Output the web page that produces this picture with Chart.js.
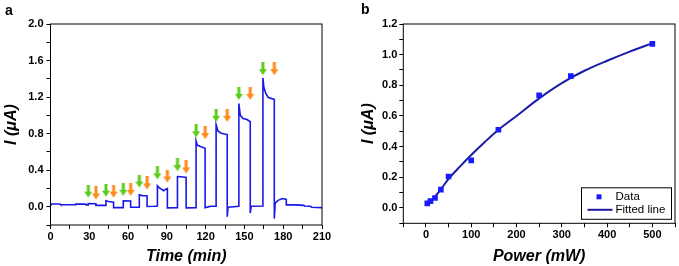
<!DOCTYPE html>
<html>
<head>
<meta charset="utf-8">
<script src="https://cdn.jsdelivr.net/npm/chart.js@4.4.0/dist/chart.umd.min.js"></script>
<style>
  html, body { margin: 0; padding: 0; background: #fff; }
  #wrap { position: relative; width: 679px; height: 266px; font-family: 'Liberation Sans', Arial, sans-serif; }
  .panel { position: absolute; top: 0; height: 266px; }
  #panelA { left: 0; width: 340px; }
  #panelB { left: 340px; width: 339px; }
  .tag { position: absolute; font-weight: bold; font-size: 14px; line-height: 14px; }
</style>
</head>
<body>
<div id="wrap">
  <div class="panel" id="panelA"><canvas id="chartA"></canvas></div>
  <div class="panel" id="panelB"><canvas id="chartB"></canvas></div>
  <div class="tag" style="left:5px; top:3px">a</div>
  <div class="tag" style="left:361px; top:2px">b</div>
</div>
<script>
// panel a: current vs time (min)
const timeMin = [0, 1, 7.5, 8, 19, 19.5, 27, 27.5, 29.2,
  29.2, 35.1, 35.1, 42.9,
  42.9, 45, 48.8, 48.8, 56.3,
  56.3, 62.0, 62.0, 68.7,
  68.7, 71, 74.7, 74.7, 80, 82.7,
  82.7, 84, 86, 87.5, 89, 90.4, 90.4, 98.2,
  98.2, 101, 104.9, 104.9, 112.6,
  112.6, 113.5, 116, 119.6, 119.6, 124, 128.1,
  128.1, 129.5, 132, 136.7, 136.7, 137.3, 145.7,
  145.7, 146.8, 149, 152, 154.5, 154.5, 155.2, 164.3,
  164.3, 165, 166.5, 168.5, 173.1, 173.1, 173.8, 176, 179.5, 182.4,
  182.4, 190, 196, 196.5, 201, 202, 210];
const currentA = [0.015, 0.03, 0.03, 0.022, 0.022, 0.028, 0.028, 0.02, 0.02,
  0.035, 0.033, 0.015, 0.015,
  0.065, 0.058, 0.05, -0.01, -0.01,
  0.065, 0.062, -0.005, -0.005,
  0.13, 0.122, 0.12, 0.003, 0.005, 0.008,
  0.23, 0.21, 0.19, 0.175, 0.19, 0.2, -0.012, -0.01,
  0.33, 0.328, 0.32, -0.012, -0.01,
  0.72, 0.675, 0.66, 0.64, -0.01, 0.005, 0.005,
  0.9, 0.83, 0.805, 0.79, -0.11, -0.005, 0.005,
  1.13, 1.0, 0.965, 0.955, 0.93, -0.07, 0.005, 0.008,
  1.41, 1.31, 1.24, 1.195, 1.175, -0.13, 0.04, 0.07, 0.09, 0.08,
  0.02, 0.02, 0.015, 0.008, 0.005, -0.005, -0.01];

// light on (green) / off (orange) arrows: time and tip height
const onTimes = [29.2, 42.9, 56.3, 68.7, 82.7, 98.2, 112.6, 128.1, 145.7, 164.3];
const onTips = [0.10, 0.11, 0.12, 0.21, 0.30, 0.39, 0.76, 0.93, 1.17, 1.44];
const offTimes = [35.1, 48.8, 62.0, 74.7, 90.4, 104.9, 119.6, 136.7, 154.5, 173.1];
const offTips = [0.08, 0.10, 0.12, 0.19, 0.265, 0.365, 0.74, 0.93, 1.17, 1.44];

// panel b: current vs power (mW)
const powerMW = [3, 10, 20, 33, 50, 100, 160, 250, 320, 500];
const currentB = [0.03, 0.045, 0.065, 0.12, 0.205, 0.31, 0.51, 0.735, 0.86, 1.07];
const fitPower = [3, 10, 20, 35, 50, 75, 100, 130, 160, 200, 250, 300, 350, 400, 450, 500];
const fitCurrent = [0.025, 0.045, 0.075, 0.13, 0.19, 0.27, 0.345, 0.43, 0.51, 0.60, 0.715, 0.815, 0.895, 0.96, 1.02, 1.075];

const tickFont = { family: 'Liberation Sans', size: 11, weight: 'bold' };
const titleFont = { family: 'Liberation Sans', size: 16, weight: 'bold', style: 'italic' };

function toPoints(xs, ys) {
    return xs.map((x, i) => ({ x: x, y: ys[i] }));
}

// down arrow, tip sits at the image centre
function arrowImage(color) {
    const c = document.createElement('canvas');
    c.width = 8;
    c.height = 26;
    const g = c.getContext('2d');
    g.fillStyle = color;
    g.fillRect(2.5, 0, 3, 8);
    g.beginPath();
    g.moveTo(0, 7);
    g.lineTo(8, 7);
    g.lineTo(4, 13);
    g.closePath();
    g.fill();
    return c;
}

const frame = {
    id: 'frame',
    afterDraw(chart) {
        const { ctx, chartArea: a } = chart;
        ctx.save();
        ctx.strokeStyle = '#000';
        ctx.lineWidth = 1;
        ctx.strokeRect(a.left, a.top, a.right - a.left, a.bottom - a.top);
        ctx.restore();
    }
};

function axisGrid() {
    return { drawOnChartArea: false, drawTicks: true, tickLength: 4, color: '#000', lineWidth: 1 };
}

new Chart(document.getElementById('chartA'), {
    type: 'line',
    data: {
        datasets: [
            { type: 'scatter', data: toPoints(onTimes, onTips), pointStyle: arrowImage('#5ccc1c'), pointRadius: 5 },
            { type: 'scatter', data: toPoints(offTimes, offTips), pointStyle: arrowImage('#ff8a1a'), pointRadius: 5 },
            { data: toPoints(timeMin, currentA), borderColor: '#1818e8', borderWidth: 1.6, pointRadius: 0, tension: 0 }
        ]
    },
    options: {
        responsive: true,
        maintainAspectRatio: false,
        animation: false,
        layout: { padding: { top: 24, right: 18 } },
        plugins: { legend: { display: false }, tooltip: { enabled: false } },
        scales: {
            x: {
                type: 'linear', min: 0, max: 210,
                afterFit: s => { s.height = 41; },
                grid: axisGrid(), border: { display: false },
                ticks: { stepSize: 15, maxTicksLimit: 40, autoSkip: false, font: tickFont, color: '#000', padding: 1, maxRotation: 0,
                    callback: v => (v % 30 === 0 ? v : '') },
                title: { display: true, text: 'Time (min)', font: titleFont, color: '#000', padding: { top: 0, bottom: 0 } }
            },
            y: {
                min: -0.2, max: 2.0,
                afterFit: s => { s.width = 50.5; },
                grid: axisGrid(), border: { display: false },
                ticks: { stepSize: 0.2, maxTicksLimit: 40, autoSkip: false, font: tickFont, color: '#000', padding: 3,
                    callback: v => { const k = Math.round(v * 10); return (k >= 0 && k % 4 === 0) ? (k / 10).toFixed(1) : ''; } },
                title: { display: true, text: 'I (μA)', font: titleFont, color: '#000', padding: { top: 2, bottom: 0 } }
            }
        }
    },
    plugins: [frame]
});

const legendBox = {
    id: 'legendBox',
    afterDraw(chart) {
        const { ctx, chartArea } = chart;
        const w = 90, h = 31.5;
        const l = chartArea.right - 3.5 - w, t = chartArea.bottom - 4 - h;
        const dataSet = chart.data.datasets[0], fitSet = chart.data.datasets[1];
        ctx.save();
        ctx.fillStyle = '#fff';
        ctx.fillRect(l, t, w, h);
        ctx.strokeStyle = '#000';
        ctx.lineWidth = 1;
        ctx.strokeRect(l, t, w, h);
        ctx.fillStyle = dataSet.backgroundColor;
        ctx.fillRect(l + 15, t + 6.5, 5, 5);
        ctx.strokeStyle = fitSet.borderColor;
        ctx.lineWidth = 2;
        ctx.beginPath();
        ctx.moveTo(l + 6, t + h - 9.5);
        ctx.lineTo(l + 31, t + h - 9.5);
        ctx.stroke();
        ctx.fillStyle = '#000';
        ctx.font = '11.5px "Liberation Sans"';
        ctx.textBaseline = 'middle';
        ctx.fillText(dataSet.label, l + 34, t + 9);
        ctx.fillText(fitSet.label, l + 34, t + h - 9.5);
        ctx.restore();
    }
};

new Chart(document.getElementById('chartB'), {
    type: 'scatter',
    data: {
        datasets: [
            { label: 'Data', data: toPoints(powerMW, currentB), pointStyle: 'rect', pointRadius: 4,
              backgroundColor: '#1a1aff', borderColor: '#1a1aff', borderWidth: 0 },
            { type: 'line', label: 'Fitted line', data: toPoints(fitPower, fitCurrent), borderColor: '#1c1ca8',
              borderWidth: 2, pointRadius: 0, tension: 0.4, cubicInterpolationMode: 'monotone' }
        ]
    },
    options: {
        responsive: true,
        maintainAspectRatio: false,
        animation: false,
        layout: { padding: { top: 24, right: 4 } },
        plugins: { legend: { display: false }, tooltip: { enabled: false } },
        scales: {
            x: {
                type: 'linear', min: -50, max: 550,
                afterFit: s => { s.height = 42.7; },
                grid: axisGrid(), border: { display: false },
                ticks: { stepSize: 50, maxTicksLimit: 40, autoSkip: false, font: tickFont, color: '#000', padding: 1, maxRotation: 0,
                    callback: v => (v >= 0 && v % 100 === 0 ? v : '') },
                title: { display: true, text: 'Power (mW)', font: titleFont, color: '#000', padding: { top: 0, bottom: 0 } }
            },
            y: {
                min: -0.1, max: 1.2,
                afterFit: s => { s.width = 63.3; },
                grid: axisGrid(), border: { display: false },
                ticks: { stepSize: 0.1, maxTicksLimit: 40, autoSkip: false, font: tickFont, color: '#000', padding: 2,
                    callback: v => { const k = Math.round(v * 10); return (k >= 0 && k % 2 === 0) ? (k / 10).toFixed(1) : ''; } },
                title: { display: true, text: 'I (μA)', font: titleFont, color: '#000', padding: { top: 19, bottom: 0 } }
            }
        }
    },
    plugins: [frame, legendBox]
});
</script>
</body>
</html>
